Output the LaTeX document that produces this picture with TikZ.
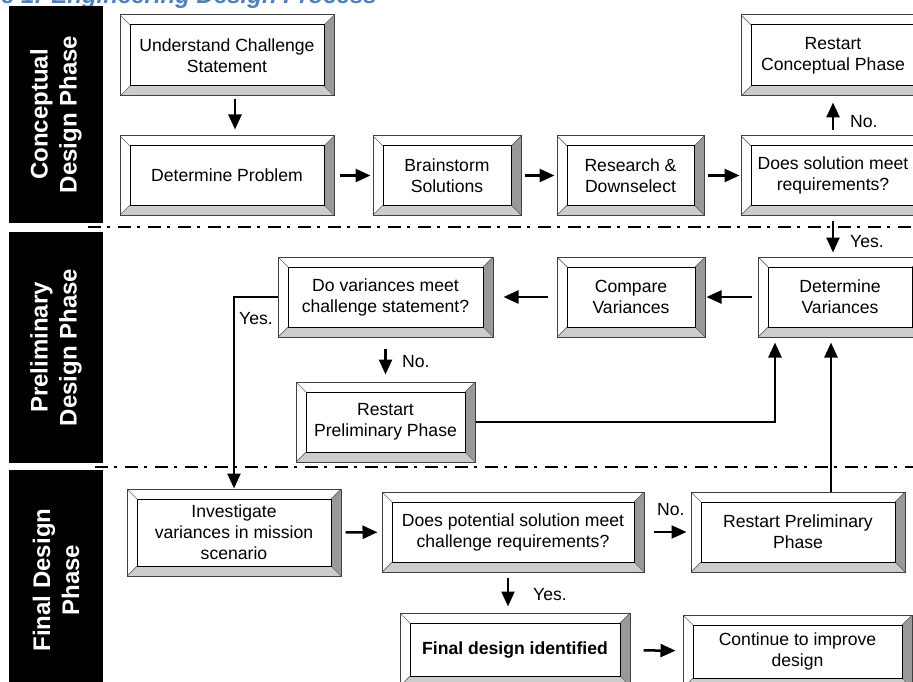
\documentclass[tikz,border=0pt]{standalone}
\usepackage{fontspec}
\setmainfont{Liberation Sans}
\usetikzlibrary{arrows.meta,positioning}

\definecolor{titleblue}{RGB}{79,129,189}
\newcommand{\boxfont}{\fontsize{17.6}{21}\selectfont}
\newcommand{\phasefont}{\fontsize{24}{29}\selectfont\bfseries}

\tikzset{
  % raised box with a bevelled frame
  bevel/.style={draw=black!75, line width=1pt, fill=white, inner sep=0pt,
    align=center, font=\boxfont,
    path picture={
      \path (path picture bounding box.south west) coordinate (bsw)
            (path picture bounding box.north east) coordinate (bne)
            (path picture bounding box.south east) coordinate (bse)
            (path picture bounding box.north west) coordinate (bnw);
      \fill[black!40] (bse) -- (bne) -- ([shift={(-10pt,-10pt)}]bne) -- ([shift={(-10pt,10pt)}]bse) -- cycle;
      \fill[black!20] (bsw) -- (bse) -- ([shift={(-10pt,10pt)}]bse) -- ([shift={(10pt,10pt)}]bsw) -- cycle;
      \draw[black!60, line width=0.7pt] (bnw) -- ([shift={(10pt,-10pt)}]bnw) (bsw) -- ([shift={(10pt,10pt)}]bsw)
            (bne) -- ([shift={(-10pt,-10pt)}]bne) (bse) -- ([shift={(-10pt,10pt)}]bse);
      \draw[black, line width=1pt] ([shift={(10pt,10pt)}]bsw) rectangle ([shift={(-10pt,-10pt)}]bne);
    }},
  phase/.style={fill=black, text=white, rotate=90, align=center, font=\phasefont, inner sep=0pt},
  flow/.style={line width=2.5pt, -{Triangle[length=15pt,width=13pt]}, shorten <=4pt, shorten >=4pt},
  conn/.style={line width=2.5pt, -{Triangle[length=15pt,width=13pt]}},
  phaseline/.style={line width=2.6pt, dash pattern=on 13pt off 6pt on 3pt off 8pt},
  lbl/.style={font=\boxfont, inner sep=0pt, anchor=west}
}

\begin{document}
\begin{tikzpicture}[x=1pt, y=-1pt]
    \useasboundingbox (0,0) rectangle (913,682);
    \clip (0,0) rectangle (913,682);
    \fill[white] (0,0) rectangle (913,682);

    % caption, cut off at the top
    \node[anchor=base east, inner sep=0pt, text=titleblue, font=\fontsize{24}{28}\selectfont\bfseries\itshape] (title) at (377,4) {e 1: Engineering Design Process};

    % phase bands
    \node[phase, minimum width=217pt, minimum height=94pt] (conc) at (56,114.5) {Conceptual\\Design Phase};
    \node[phase, minimum width=231pt, minimum height=94pt] (prel) at (56,347.5) {Preliminary\\Design Phase};
    \node[phase, minimum width=220pt, minimum height=94pt] (fin) at (56,580) {Final Design\\Phase};
    \draw[phaseline] (88,227) -- (913,227);
    \draw[phaseline] (95,467) -- (913,467);

    % conceptual phase
    \node[bevel, minimum width=214pt, minimum height=81pt] (und) at (227,55.5) {Understand Challenge\\Statement};
    \node[bevel, minimum width=214pt, minimum height=79pt] (prob) at (227,175.5) {Determine Problem};
    \node[bevel, minimum width=148pt, minimum height=79pt] (brain) at (447,175.5) {Brainstorm\\Solutions};
    \node[bevel, minimum width=147pt, minimum height=79pt] (research) at (630.5,175.5) {Research \&\\Downselect};
    \node[bevel, minimum width=184pt, minimum height=79pt] (meets) at (833,175.5) {Does solution meet\\requirements?};
    \node[bevel, minimum width=184pt, minimum height=81pt] (restartC) at (833,55.5) {Restart\\Conceptual Phase};

    % preliminary phase
    \node[bevel, minimum width=164pt, minimum height=80pt] (detvar) at (840,297) {Determine\\Variances};
    \node[bevel, minimum width=148pt, minimum height=80pt] (compare) at (631,297) {Compare\\Variances};
    \node[bevel, minimum width=215pt, minimum height=80pt] (dovar) at (385.5,297) {Do variances meet\\challenge statement?};
    \node[bevel, minimum width=179pt, minimum height=80pt] (restartP) at (385.5,422) {Restart\\Preliminary Phase};

    % final phase
    \node[bevel, minimum width=214pt, minimum height=87pt] (invest) at (234,532.5) {Investigate\\variances in mission\\scenario};
    \node[bevel, minimum width=262pt, minimum height=80pt] (doespot) at (513,532) {Does potential solution meet\\challenge requirements?};
    \node[bevel, minimum width=214pt, minimum height=80pt] (restartPF) at (798,532) {Restart Preliminary\\Phase};
    \node[bevel, minimum width=230pt, minimum height=73pt, font=\boxfont\bfseries] (final) at (515,649.5) {Final design identified};
    \node[bevel, minimum width=229pt, minimum height=73pt] (cont) at (797.5,651.5) {Continue to improve\\design};

    % arrows
    \draw[flow, shorten <=3pt, shorten >=6pt] ([xshift=8pt]und.south) -- ([xshift=8pt]und.south |- prob.north);
    \draw[flow, shorten <=5pt, shorten >=2pt] (prob) -- (brain);
    \draw[flow, shorten <=3pt, shorten >=2pt] (brain) -- (research);
    \draw[flow, shorten <=3pt, shorten >=1pt] (research) -- (meets);
    \draw[flow, shorten <=5pt, shorten >=6pt] (meets) -- (restartC);
    \draw[flow, shorten <=5pt, shorten >=4pt] (meets) -- (detvar.north -| meets.south);
    \draw[flow, shorten <=6pt, shorten >=1pt] (detvar) -- (compare);
    \draw[flow, shorten <=9pt, shorten >=10pt] (compare) -- (dovar);
    \draw[flow, shorten <=11pt, shorten >=7pt] (dovar) -- (restartP);
    \draw[conn] (dovar.west) -| (invest.north);
    \draw[conn, shorten >=5pt] (restartP.east) -| ([xshift=-65pt]detvar.south);
    \draw[conn, shorten >=5pt] ([xshift=33pt]restartPF.north) -- ([xshift=33pt]restartPF.north |- detvar.south);
    \draw[flow] (invest) -- (doespot);
    \draw[flow, shorten <=9pt, shorten >=4pt] (doespot) -- (restartPF);
    \draw[flow, shorten <=5pt, shorten >=6pt] ([xshift=-5pt]doespot.south) -- ([xshift=-5pt]doespot.south |- final.north);
    \draw[flow, shorten <=13pt, shorten >=7pt] (final) -- (cont);

    % answers
    \node[lbl] (noC) at (850,122) {No.};
    \node[lbl] (yesC) at (850,242) {Yes.};
    \node[lbl] (yesP) at (239,319) {Yes.};
    \node[lbl] (noP) at (402,362) {No.};
    \node[lbl] (noF) at (657,510) {No.};
    \node[lbl] (yesF) at (533,595) {Yes.};
\end{tikzpicture}
\end{document}
